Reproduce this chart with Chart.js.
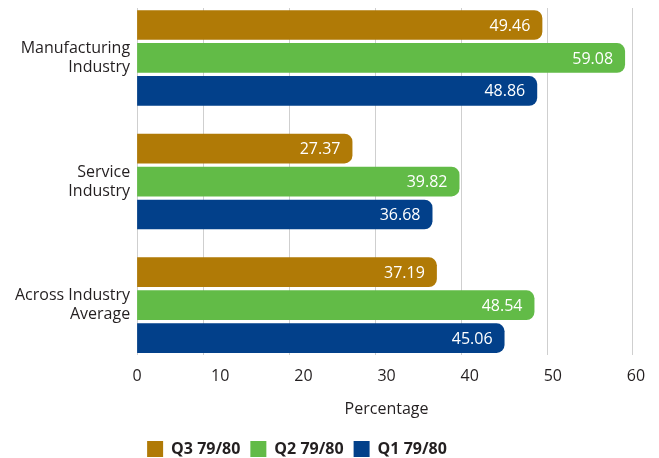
<!DOCTYPE html>
<html><head><meta charset="utf-8">
<script src="https://cdn.jsdelivr.net/npm/chart.js@4/dist/chart.umd.min.js"></script>
<style>html,body{margin:0;padding:0;background:#fff}canvas{display:block}</style>
</head><body><canvas id="c" width="659" height="458"></canvas>
<script>
const categories = [["Manufacturing","Industry"],["Service","Industry"],["Across Industry","Average"]];
const seriesNames = ["Q3 79/80","Q2 79/80","Q1 79/80"];
const q3 = [49.46, 27.37, 37.19];
const q2 = [59.08, 39.82, 48.54];
const q1 = [48.86, 36.68, 45.06];
const gridTicks = [10, 20, 30, 40, 50, 60];
const colors = ["#b07a06", "#62bb47", "#02408a"];

const TXT = '#231f20';
const FONT = '"Open Sans", "Liberation Sans", sans-serif';

const valueLabels = {
  id: 'valueLabels',
  afterDatasetsDraw(chart) {
    const ctx = chart.ctx;
    ctx.save();
    ctx.font = '16px ' + FONT;
    ctx.fillStyle = '#ffffff';
    ctx.textAlign = 'right';
    ctx.textBaseline = 'middle';
    chart.data.datasets.forEach((ds, i) => {
      chart.getDatasetMeta(i).data.forEach((bar, j) => {
        ctx.fillText(ds.data[j].x.toFixed(2), bar.x - 12, bar.y + 1);
      });
    });
    ctx.restore();
  }
};

function toPoints(arr) { return arr.map((v, i) => ({ x: v, y: i })); }
function noVPad(s) { s.paddingTop = 0; s.paddingBottom = 0; }
function noHPad(s) { s.paddingLeft = 0; s.paddingRight = 0; }

function build() {
  new Chart(document.getElementById('c'), {
    type: 'bar',
    data: {
      datasets: [
        { label: seriesNames[0], data: toPoints(q3), backgroundColor: colors[0] },
        { label: seriesNames[1], data: toPoints(q2), backgroundColor: colors[1] },
        { label: seriesNames[2], data: toPoints(q1), backgroundColor: colors[2] }
      ]
    },
    options: {
      responsive: false,
      animation: false,
      indexAxis: 'y',
      layout: { padding: { top: 8, right: 23, left: 8, bottom: -9 } },
      datasets: { bar: { clip: 0, borderWidth: 0, borderRadius: 8, borderSkipped: 'start', categoryPercentage: 0.8, barPercentage: 0.9 } },
      scales: {
        y: {
          type: 'linear', reverse: true, min: -0.404, max: 2.4, offset: false,
          afterBuildTicks: (s) => { s.ticks = categories.map((c, i) => ({ value: i })); },
          afterFit: noVPad,
          ticks: { callback: (v) => categories[v], font: { family: FONT, size: 16 }, color: TXT, padding: 7 },
          grid: { display: false, offset: false, drawTicks: false },
          border: { display: true, color: '#cfcfcf', width: 1 }
        },
        x: {
          type: 'linear', position: 'bottom', weight: 0, min: 2.326, max: 60.35, offset: false,
          afterBuildTicks: (s) => { s.ticks = gridTicks.map(v => ({ value: v })); },
          afterFit: noHPad,
          ticks: { display: false },
          grid: { color: '#cfcfcf', lineWidth: 1, drawTicks: false },
          border: { display: false }
        },
        xl: {
          type: 'linear', position: 'bottom', weight: 1, min: 0, max: 60, offset: false,
          afterFit: noHPad,
          ticks: { stepSize: 10, font: { family: FONT, size: 16 }, color: TXT, padding: 12 },
          grid: { display: false, drawTicks: false },
          border: { display: false },
          title: { display: true, text: 'Percentage', font: { family: FONT, size: 16 }, color: TXT, padding: { top: 2, bottom: 12 } }
        }
      },
      plugins: {
        legend: {
          position: 'bottom', fullSize: false, align: 'start',
          labels: { boxWidth: 16, boxHeight: 16, padding: 10, color: TXT, font: { family: FONT, size: 16, weight: 'bold' } }
        },
        tooltip: { enabled: false }
      }
    },
    plugins: [valueLabels]
  });
}

Promise.all([
  document.fonts.load('16px "Open Sans"'),
  document.fonts.load('bold 16px "Open Sans"')
]).then(build, build);
</script>
</body></html>
